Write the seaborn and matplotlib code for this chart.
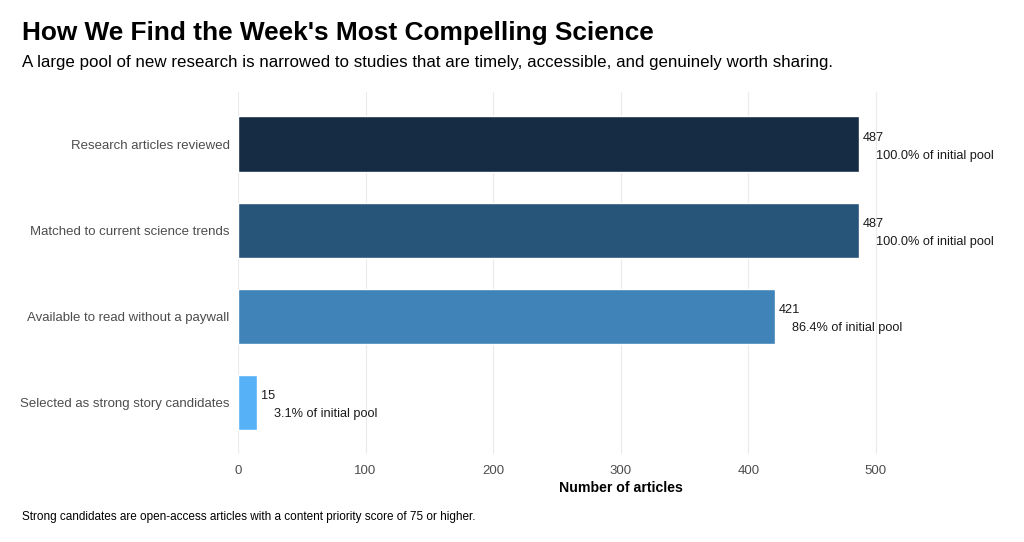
import matplotlib
matplotlib.use("Agg")
import matplotlib.pyplot as plt
import seaborn as sns
import pandas as pd

stages = [
    "Research articles reviewed",
    "Matched to current science trends",
    "Available to read without a paywall",
    "Selected as strong story candidates",
]
counts = [487, 487, 421, 15]
bar_colors = ["#162B44", "#275479", "#3F83B8", "#56B1F7"]

df = pd.DataFrame({"stage": stages, "count": counts})
df["pct"] = df["count"] / counts[0] * 100

sns.set_theme(style="white")
plt.rcParams["font.family"] = ["Liberation Sans", "DejaVu Sans"]
plt.rcParams["text.color"] = "black"

fig = plt.figure(figsize=(10.24, 5.42), dpi=100)
ax = fig.add_axes([0.2324, 0.163, 0.7476, 0.6665])

sns.barplot(data=df, x="count", y="stage", hue="stage", palette=bar_colors,
            legend=False, width=0.64, saturation=1, ax=ax)

ax.set_xlim(0, 600)
ax.set_ylim(3.6, -0.6)
ax.set_xticks([0, 100, 200, 300, 400, 500])
ax.set_axisbelow(True)
ax.xaxis.grid(True, color="#EBEBEB", linewidth=0.8)
ax.yaxis.grid(False)
for s in ax.spines.values():
    s.set_visible(False)
ax.tick_params(axis="both", length=0, labelsize=9.5, labelcolor="#4D4D4D")
ax.tick_params(axis="x", pad=8)
ax.tick_params(axis="y", pad=6)
ax.set_ylabel("")
ax.set_xlabel("Number of articles", fontsize=10.2, fontweight="bold", color="black", labelpad=3)

# value labels: count on top line, share of initial pool underneath
for i, row in df.iterrows():
    ax.annotate(f"{row['count']}", xy=(row["count"], i), xytext=(2.5, 4),
                textcoords="offset points", ha="left", va="center",
                fontsize=9.2, color="#1a1a1a")
    ax.annotate(f"{row['pct']:.1f}% of initial pool", xy=(row["count"], i),
                xytext=(12, -8.5), textcoords="offset points", ha="left",
                va="center", fontsize=9.2, color="#1a1a1a")

fig.text(0.0215, 0.939, "How We Find the Week's Most Compelling Science",
         fontsize=18.9, fontweight="bold", ha="left", va="center")
fig.text(0.0215, 0.884, "A large pool of new research is narrowed to studies that are timely, accessible, and genuinely worth sharing.",
         fontsize=12.2, ha="left", va="center")
fig.text(0.0215, 0.046, "Strong candidates are open-access articles with a content priority score of 75 or higher.",
         fontsize=8.5, ha="left", va="center")

fig.savefig("out.png", dpi=100)
